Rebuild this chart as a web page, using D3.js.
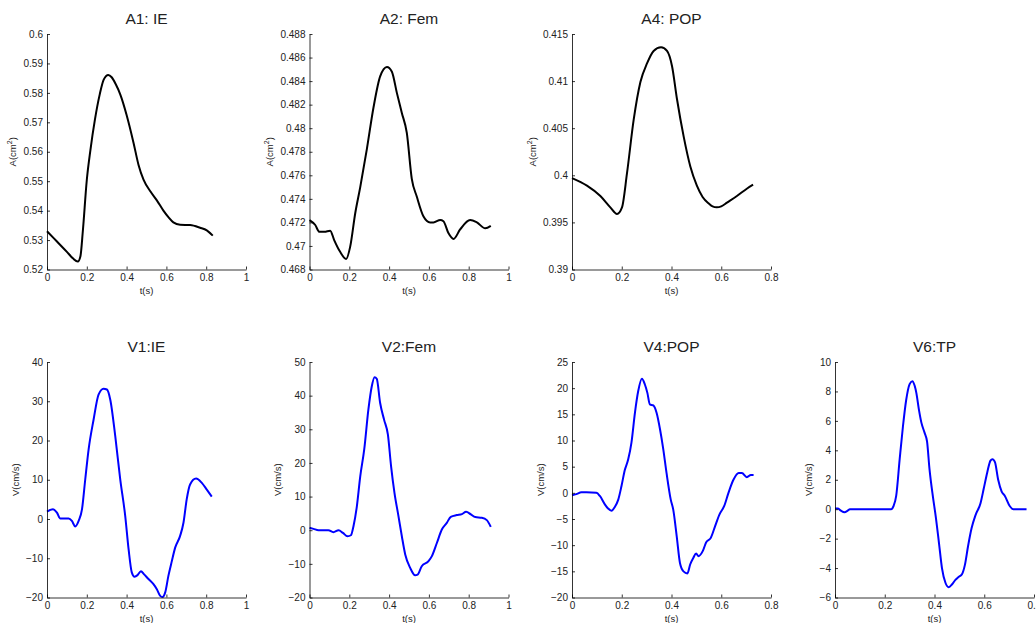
<!DOCTYPE html>
<html>
<head>
<meta charset="utf-8">
<script src="https://cdn.jsdelivr.net/npm/d3@7"></script>
<style>
  body { margin: 0; background: #fff; }
  text { font-family: "Liberation Sans", Arial, Helvetica, sans-serif; fill: #222; }
</style>
</head>
<body>
<div id="root"></div>
<script>
// ---- data ----
var a1T = [0, 0.05, 0.1, 0.13, 0.155, 0.168, 0.18, 0.2, 0.218, 0.241, 0.265, 0.285, 0.308, 0.325, 0.345, 0.368, 0.4, 0.435, 0.46, 0.485, 0.52, 0.552, 0.585, 0.61, 0.635, 0.669, 0.719, 0.769, 0.803, 0.833];
var a1A = [0.533, 0.5295, 0.526, 0.5238, 0.5227, 0.5245, 0.533, 0.5504, 0.5605, 0.571, 0.5795, 0.5845, 0.5861, 0.5853, 0.583, 0.5795, 0.5725, 0.563, 0.5555, 0.5505, 0.5465, 0.5435, 0.54, 0.5378, 0.536, 0.5352, 0.5351, 0.5342, 0.5333, 0.5315];

var a2T = [0, 0.028, 0.05, 0.075, 0.104, 0.124, 0.154, 0.184, 0.204, 0.23, 0.255, 0.288, 0.322, 0.355, 0.389, 0.414, 0.439, 0.464, 0.489, 0.514, 0.539, 0.573, 0.606, 0.623, 0.657, 0.673, 0.698, 0.724, 0.757, 0.807, 0.841, 0.883, 0.911];
var a2A = [0.4722, 0.4718, 0.4712, 0.4712, 0.4713, 0.4705, 0.4695, 0.4689, 0.4699, 0.4728, 0.475, 0.4782, 0.4818, 0.4844, 0.4852, 0.4848, 0.483, 0.4813, 0.4796, 0.4757, 0.4742, 0.4725, 0.472, 0.472, 0.4722, 0.4721, 0.4711, 0.4706, 0.4714, 0.4722, 0.472, 0.4715, 0.4717];

var a4T = [0, 0.06, 0.114, 0.154, 0.181, 0.201, 0.221, 0.248, 0.275, 0.302, 0.328, 0.358, 0.382, 0.402, 0.422, 0.449, 0.476, 0.502, 0.525, 0.55, 0.565, 0.582, 0.6, 0.623, 0.663, 0.704, 0.728];
var a4A = [0.3997, 0.3989, 0.3978, 0.3966, 0.3959, 0.3966, 0.4002, 0.4059, 0.4099, 0.4119, 0.4132, 0.4136, 0.4132, 0.4116, 0.4081, 0.4041, 0.4009, 0.3989, 0.3977, 0.397, 0.3967, 0.3966, 0.3967, 0.3971, 0.3978, 0.3986, 0.399];

var v1T = [0, 0.03, 0.05, 0.067, 0.109, 0.125, 0.142, 0.159, 0.176, 0.192, 0.209, 0.234, 0.259, 0.284, 0.301, 0.318, 0.343, 0.368, 0.393, 0.41, 0.426, 0.44, 0.455, 0.472, 0.488, 0.51, 0.535, 0.552, 0.569, 0.58, 0.594, 0.61, 0.627, 0.644, 0.669, 0.686, 0.702, 0.719, 0.749, 0.778, 0.803, 0.828];
var v1V = [1.9, 2.5, 1.6, 0.1, 0.1, -0.5, -1.9, -0.5, 2.5, 10, 17.7, 25.3, 31.7, 33.2, 33, 30.4, 21.1, 10.1, 0.8, -7.7, -13.6, -14.7, -14.3, -13.3, -14.1, -15.3, -16.6, -17.9, -19.6, -19.9, -18.7, -14.5, -10.8, -7.3, -4.3, -0.9, 5, 8.8, 10.3, 9.2, 7.5, 5.7];

var v2T = [0, 0.02, 0.045, 0.095, 0.12, 0.146, 0.168, 0.191, 0.208, 0.221, 0.238, 0.255, 0.275, 0.296, 0.313, 0.327, 0.338, 0.355, 0.375, 0.394, 0.41, 0.427, 0.447, 0.464, 0.481, 0.506, 0.531, 0.543, 0.564, 0.598, 0.615, 0.64, 0.665, 0.69, 0.71, 0.74, 0.766, 0.787, 0.811, 0.833, 0.866, 0.891, 0.911];
var v2V = [0.7, 0.4, 0, 0, -0.6, 0, -0.8, -1.8, -1.5, 1.2, 7.1, 16, 24, 35.9, 42.8, 45.5, 45, 37.8, 32.8, 28.4, 19, 11.1, 4.2, -1.8, -7.2, -11.2, -13.4, -13.2, -10.7, -9.2, -7.7, -3.8, 0.2, 2.2, 4, 4.5, 4.8, 5.5, 4.7, 3.9, 3.7, 3, 1];

var v4T = [0, 0.017, 0.038, 0.058, 0.098, 0.112, 0.132, 0.145, 0.159, 0.172, 0.186, 0.199, 0.212, 0.226, 0.239, 0.253, 0.266, 0.281, 0.293, 0.303, 0.313, 0.327, 0.34, 0.354, 0.367, 0.38, 0.397, 0.407, 0.421, 0.434, 0.448, 0.464, 0.475, 0.488, 0.499, 0.508, 0.526, 0.539, 0.558, 0.575, 0.593, 0.612, 0.629, 0.649, 0.67, 0.683, 0.703, 0.719, 0.73];
var v4V = [-0.45, -0.25, 0.1, 0.1, 0, -0.6, -2.2, -3, -3.4, -2.7, -1.3, 1.3, 4.3, 6.4, 9.6, 15.3, 19.4, 21.8, 20.7, 19.1, 16.9, 16.7, 15.3, 12.1, 8.3, 3.8, -1.3, -3.2, -8.3, -13.4, -15, -15.4, -13.7, -12.4, -11.6, -12.1, -11.1, -9.5, -8.6, -6.4, -4.1, -2.5, 0, 2.5, 3.8, 3.8, 3, 3.4, 3.4];

var v6T = [0, 0.011, 0.024, 0.038, 0.051, 0.06, 0.226, 0.235, 0.246, 0.26, 0.273, 0.286, 0.3, 0.311, 0.32, 0.327, 0.337, 0.347, 0.36, 0.37, 0.38, 0.394, 0.405, 0.418, 0.43, 0.444, 0.457, 0.471, 0.484, 0.497, 0.511, 0.522, 0.535, 0.549, 0.565, 0.585, 0.598, 0.612, 0.625, 0.633, 0.643, 0.656, 0.67, 0.683, 0.703, 0.717, 0.77];
var v6V = [0.05, 0.05, -0.1, -0.2, -0.1, 0, 0, 0.2, 0.9, 3.4, 5.6, 7.4, 8.5, 8.7, 8.4, 7.9, 6.8, 5.9, 5.2, 4.6, 2.7, 0.8, -0.5, -2.3, -4, -5, -5.3, -5.1, -4.8, -4.6, -4.4, -3.8, -2.5, -1.3, -0.4, 0.4, 1.4, 2.5, 3.3, 3.4, 3.2, 2, 1.2, 0.9, 0.2, 0, 0];

// tick labels
var xTicks10 = [0, 0.2, 0.4, 0.6, 0.8, 1];
var xTicks08 = [0, 0.2, 0.4, 0.6, 0.8];
var a1Ticks = [0.52, 0.53, 0.54, 0.55, 0.56, 0.57, 0.58, 0.59, 0.6];
var a2Ticks = [0.468, 0.47, 0.472, 0.474, 0.476, 0.478, 0.48, 0.482, 0.484, 0.486, 0.488];
var a4Ticks = [0.39, 0.395, 0.4, 0.405, 0.41, 0.415];
var v1Ticks = [-20, -10, 0, 10, 20, 30, 40];
var v2Ticks = [-20, -10, 0, 10, 20, 30, 40, 50];
var v4Ticks = [-20, -15, -10, -5, 0, 5, 10, 15, 20, 25];
var v6Ticks = [-6, -4, -2, 0, 2, 4, 6, 8, 10];

// ---- panels ----
var panels = [
  {title: "A1: IE",  t: a1T, v: a1A, xt: xTicks10, yt: a1Ticks, col: 0, row: 0, kind: "A"},
  {title: "A2: Fem", t: a2T, v: a2A, xt: xTicks10, yt: a2Ticks, col: 1, row: 0, kind: "A"},
  {title: "A4: POP", t: a4T, v: a4A, xt: xTicks08, yt: a4Ticks, col: 2, row: 0, kind: "A"},
  {title: "V1:IE",   t: v1T, v: v1V, xt: xTicks10, yt: v1Ticks, col: 0, row: 1, kind: "V"},
  {title: "V2:Fem",  t: v2T, v: v2V, xt: xTicks10, yt: v2Ticks, col: 1, row: 1, kind: "V"},
  {title: "V4:POP",  t: v4T, v: v4V, xt: xTicks08, yt: v4Ticks, col: 2, row: 1, kind: "V"},
  {title: "V6:TP",   t: v6T, v: v6V, xt: xTicks08, yt: v6Ticks, col: 3, row: 1, kind: "V"}
];

var lefts = [47, 309.5, 572, 835],
    tops = [34, 362],
    pw = 199,
    ph = 235.5;

var svg = d3.select("#root")
            .append("svg")
            .attr("width", 1036)
            .attr("height", 623);

panels.forEach(function (p) {
  var g = svg.append("g")
    .attr("transform", "translate(" + lefts[p.col] + "," + tops[p.row] + ")");

  var x = d3.scaleLinear()
    .domain([p.xt[0], p.xt[p.xt.length - 1]])
    .range([0, pw]);
  var y = d3.scaleLinear()
    .domain([p.yt[0], p.yt[p.yt.length - 1]])
    .range([ph, 0]);

  // line
  var pts = p.t.map(function (d, i) { return [d, p.v[i]]; });
  g.append("path")
    .datum(pts)
    .attr("fill", "none")
    .attr("stroke", p.kind == "A" ? "#000" : "#0000ff")
    .attr("stroke-width", 2)
    .attr("stroke-linejoin", "round")
    .attr("d", d3.line()
      .x(function (d) { return x(d[0]); })
      .y(function (d) { return y(d[1]); })
      .curve(d3.curveMonotoneX));

  // x axis
  var gx = g.append("g")
    .attr("transform", "translate(0," + ph + ")")
    .call(d3.axisBottom(x).tickValues(p.xt).tickFormat(d3.format("~g"))
      .tickSizeInner(-3).tickSizeOuter(0).tickPadding(4));

  // y axis
  var gy = g.append("g")
    .call(d3.axisLeft(y).tickValues(p.yt).tickFormat(d3.format("~g"))
      .tickSizeInner(-3).tickSizeOuter(0).tickPadding(4));

  [gx, gy].forEach(function (a) {
    a.select(".domain").attr("stroke", "#000").attr("stroke-width", 0.8);
    a.selectAll(".tick line").attr("stroke", "#000").attr("stroke-width", 0.8);
    a.selectAll(".tick text").style("font-size", "10px").attr("fill", "#222")
      .style("font-family", '"Liberation Sans", Arial, sans-serif');
  });

  // title
  g.append("text")
    .attr("x", pw / 2)
    .attr("y", -10)
    .attr("text-anchor", "middle")
    .style("font-size", "15.5px")
    .text(p.title);

  // x label
  g.append("text")
    .attr("x", pw / 2)
    .attr("y", ph + 24)
    .attr("text-anchor", "middle")
    .style("font-size", "9.5px")
    .text("t(s)");

  // y label, left of the widest tick label
  var tw = d3.max(gy.selectAll(".tick text").nodes(), function (n) { return n.getBBox().width; });
  var yl = g.append("text")
    .attr("transform", "translate(" + (-tw - 11) + "," + (ph / 2) + ") rotate(-90)")
    .attr("text-anchor", "middle")
    .style("font-size", "9.5px");
  if (p.kind == "A") {
    yl.append("tspan").text("A(cm");
    yl.append("tspan").attr("dy", -4).style("font-size", "7px").text("2");
    yl.append("tspan").attr("dy", 4).text(")");
  } else {
    yl.text("V(cm/s)");
  }
});
</script>
</body>
</html>
